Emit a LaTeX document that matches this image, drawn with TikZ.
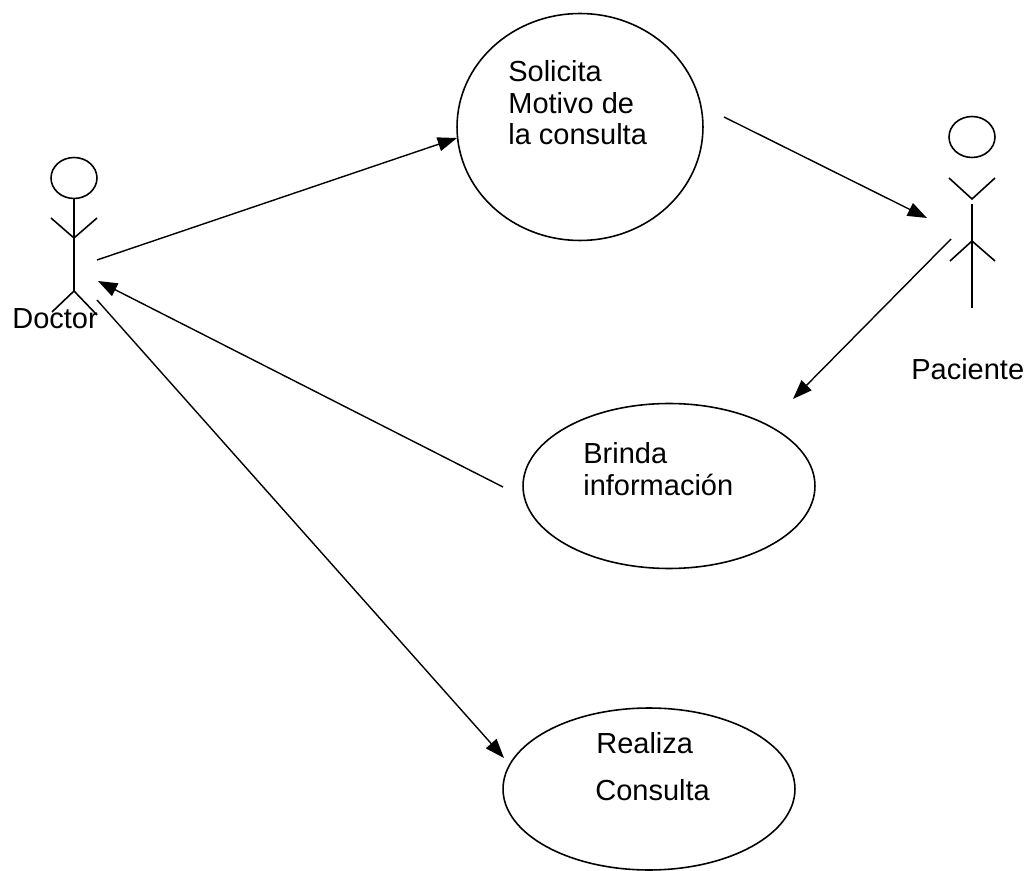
\documentclass[tikz,border=0pt]{standalone}
\usepackage{fontspec}
\setmainfont{Liberation Sans}
\usetikzlibrary{arrows.meta,shapes.geometric}
\tikzset{
  every picture/.style={x=0.02cm,y=-0.02cm},
  usecase/.style={draw,ellipse,inner sep=0pt,line width=0.9pt},
  actorhead/.style={draw,ellipse,inner sep=0pt,line width=0.9pt,minimum width=0.92cm,minimum height=0.82cm},
  actorline/.style={line width=0.9pt},
  labeltext/.style={font=\fontsize{16.5pt}{18pt}\selectfont,inner sep=0pt,align=left,anchor=west},
  assoc/.style={-{Stealth[length=11pt,width=8pt,inset=0pt]},line width=0.8pt}
}
\begin{document}
\begin{tikzpicture}
  \useasboundingbox (0,0) rectangle (1028,871);
  \node[usecase,minimum width=4.92cm,minimum height=4.54cm] (solicita) at (580,127) {};
  \node[usecase,minimum width=5.84cm,minimum height=3.3cm] (brinda) at (669,486) {};
  \node[usecase,minimum width=5.84cm,minimum height=3.24cm] (realiza) at (649,789) {};
  \node[labeltext] (solicitatext) at (508,103) {Solicita\\Motivo de\\la consulta};
  \node[labeltext] (brindatext) at (583,469) {Brinda\\información};
  \node[labeltext] (realizatext) at (596,743) {Realiza};
  \node[labeltext] (consultatext) at (595,790) {Consulta};
  % doctor
  \node[actorhead] (dhead) at (74,178) {};
  \coordinate (dhip) at (74,291);
  \coordinate (dlh) at (51,218);
  \coordinate (drh) at (97,218);
  \coordinate (dm) at (74,238);
  \coordinate (dlf) at (52,312);
  \coordinate (drf) at (97,315);
  \draw[actorline] (dhead) -- (dhip);
  \draw[actorline] (dlh) -- (dm) -- (drh);
  \draw[actorline] (dlf) -- (dhip) -- (drf);
  \node[labeltext] (doctor) at (12,319) {Doctor};
  % paciente
  \node[actorhead] (phead) at (972,137) {};
  \coordinate (ptop) at (972,204);
  \coordinate (phip) at (972,241);
  \coordinate (plh) at (949,178);
  \coordinate (prh) at (995,178);
  \coordinate (pm) at (972,199);
  \coordinate (plf) at (950,261);
  \coordinate (prf) at (995,261);
  \coordinate (pend) at (972,308);
  \draw[actorline] (ptop) -- (pend);
  \draw[actorline] (plh) -- (pm) -- (prh);
  \draw[actorline] (plf) -- (phip) -- (prf);
  \node[labeltext] (paciente) at (911,369) {Paciente};
  % connectors
  \coordinate (a1) at (97,260);
  \coordinate (a2) at (457,138);
  \coordinate (b1) at (724,117);
  \coordinate (b2) at (927,218);
  \coordinate (c1) at (951,239);
  \coordinate (c2) at (793,399);
  \coordinate (d1) at (503,487);
  \coordinate (d2) at (98,281);
  \coordinate (e1) at (97,300);
  \coordinate (e2) at (504,758);
  \draw[assoc] (a1) -- (a2);
  \draw[assoc] (b1) -- (b2);
  \draw[assoc] (c1) -- (c2);
  \draw[assoc] (d1) -- (d2);
  \draw[assoc] (e1) -- (e2);
\end{tikzpicture}
\end{document}
